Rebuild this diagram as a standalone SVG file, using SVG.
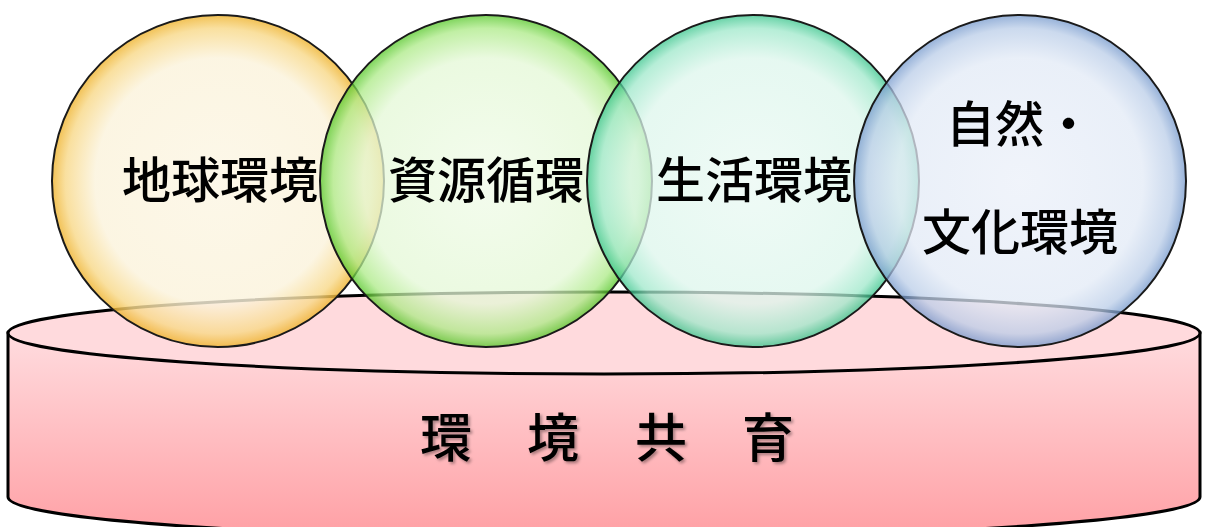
<svg xmlns="http://www.w3.org/2000/svg" width="1205" height="527" viewBox="0 0 1205 527">
<style>
.lbl{font-family:"Noto Sans CJK JP","Noto Sans CJK SC",sans-serif;font-size:49px;font-weight:500;fill:#000;text-anchor:middle}
.base{font-family:"Noto Sans CJK JP","Noto Sans CJK SC",sans-serif;font-size:52px;font-weight:500;fill:#000;text-anchor:middle;filter:url(#sh)}
.circ{stroke:#1a1a1a;stroke-width:2}
</style>
<defs>
<linearGradient id="cyl" x1="0" y1="0" x2="0" y2="1">
<stop offset="0" stop-color="#FFDCDF"/>
<stop offset="1" stop-color="#FF9FA4"/>
</linearGradient>
<radialGradient id="gY" cx="0.5" cy="0.5" r="0.5">
<stop offset="0" stop-color="#FCF6E4"/>
<stop offset="0.74" stop-color="#FBF3DC"/>
<stop offset="0.92" stop-color="#F8D98A"/>
<stop offset="1" stop-color="#EFB430"/>
</radialGradient>
<radialGradient id="gG" cx="0.5" cy="0.5" r="0.5">
<stop offset="0" stop-color="#F0FBE8"/>
<stop offset="0.74" stop-color="#E4F8D6"/>
<stop offset="0.92" stop-color="#ACEA86"/>
<stop offset="1" stop-color="#52C624"/>
</radialGradient>
<radialGradient id="gT" cx="0.5" cy="0.5" r="0.5">
<stop offset="0" stop-color="#EAF9F3"/>
<stop offset="0.74" stop-color="#DDF6EC"/>
<stop offset="0.92" stop-color="#9EE8CA"/>
<stop offset="1" stop-color="#36C48A"/>
</radialGradient>
<radialGradient id="gB" cx="0.5" cy="0.5" r="0.5">
<stop offset="0" stop-color="#EBF0F9"/>
<stop offset="0.74" stop-color="#E2EAF6"/>
<stop offset="0.92" stop-color="#BACDE8"/>
<stop offset="1" stop-color="#7498CC"/>
</radialGradient>
<filter id="sh" x="-20%" y="-20%" width="140%" height="140%">
<feDropShadow dx="2" dy="2" stdDeviation="1.5" flood-color="#000" flood-opacity="0.35"/>
</filter>
</defs>
<g id="base-cylinder">
<path d="M8,333 L8,497 A596,41 0 0 0 1200,497 L1200,333 Z" fill="url(#cyl)" stroke="#000" stroke-width="3"/>
<ellipse cx="604" cy="333" rx="596" ry="41" fill="#FFDADD" stroke="#000" stroke-width="3"/>
<text class="base" x="446" y="457">環</text>
<text class="base" x="553" y="457">境</text>
<text class="base" x="661" y="457">共</text>
<text class="base" x="768" y="457">育</text>
</g>
<g id="circle-chikyu">
<circle class="circ" cx="218" cy="181" r="166" fill="url(#gY)" fill-opacity="0.82"/>
</g>
<g id="circle-shigen">
<circle class="circ" cx="486" cy="181" r="166" fill="url(#gG)" fill-opacity="0.75"/>
</g>
<g id="circle-seikatsu">
<circle class="circ" cx="753" cy="181" r="166" fill="url(#gT)" fill-opacity="0.75"/>
</g>
<g id="circle-shizen">
<circle class="circ" cx="1020" cy="181" r="166" fill="url(#gB)" fill-opacity="0.75"/>
</g>
<g id="labels">
<text class="lbl" x="220" y="198">地球環境</text>
<text class="lbl" x="486" y="198">資源循環</text>
<text class="lbl" x="754" y="198">生活環境</text>
<text class="lbl" x="946" y="142" style="text-anchor:start">自然・</text>
<text class="lbl" x="1020" y="250">文化環境</text>
</g>
<g id="connectors"></g>
</svg>
